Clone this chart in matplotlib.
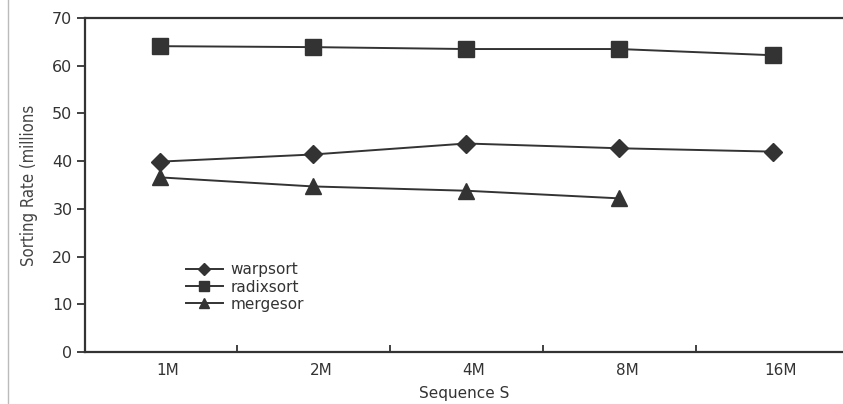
#!/usr/bin/env python3
import matplotlib
matplotlib.use("Agg")
import matplotlib.pyplot as plt
from matplotlib.lines import Line2D

sizes = ["1M", "2M", "4M", "8M", "16M"]
warpsort = [39.9, 41.4, 43.7, 42.7, 42.0]
radixsort = [64.1, 63.9, 63.5, 63.5, 62.2]
mergesort = [36.6, 34.7, 33.8, 32.2]

ink = "#333333"
plt.rcParams["font.family"] = ["DejaVu Sans"]

fig = plt.figure(figsize=(8.43, 4.04), dpi=100)
ax = fig.add_axes([0.1008, 0.1287, 0.8992, 0.8267])

x = list(range(len(sizes)))
ax.plot(x, warpsort, color=ink, lw=1.4, marker="D", ms=9.5, label="warpsort")
ax.plot(x, radixsort, color=ink, lw=1.4, marker="s", ms=11.5, label="radixsort")
ax.plot(x[:len(mergesort)], mergesort, color=ink, lw=1.4, marker="^", ms=11,
        label="mergesor")

ax.set_xlim(-0.49, 4.46)
ax.set_ylim(0, 70)
ax.set_yticks(range(0, 71, 10))
ax.set_xticks([i + 0.5 for i in range(4)])
ax.set_xticklabels([])
for i, s in enumerate(sizes):
    ax.text(i + 0.05, -3.8, s, ha="center", va="center", fontsize=11, color=ink)
ax.tick_params(axis="x", direction="in", length=5, width=1.3, color=ink)
ax.tick_params(axis="y", direction="out", length=6, width=1.3, color=ink,
               labelsize=11.5, labelcolor=ink, pad=3)

for side in ["left", "bottom", "top"]:
    ax.spines[side].set_linewidth(1.6)
    ax.spines[side].set_color(ink)
ax.spines["right"].set_visible(False)

ax.text(-0.074, 0.5, "Sorting Rate (millions", transform=ax.transAxes, rotation=90,
        ha="center", va="center", fontsize=12, color="#444444", fontstretch="condensed")
ax.text(0.5, -0.125, "Sequence S", transform=ax.transAxes, ha="center", va="center",
        fontsize=11, color=ink)

ax.legend(loc="upper left", bbox_to_anchor=(0.115, 0.31), frameon=False, fontsize=11,
          handlelength=2.4, handletextpad=0.5, labelspacing=0.15, markerscale=0.65,
          labelcolor=ink)

fig.add_artist(Line2D([0.0095, 0.0095], [0, 1], color="#bbbbbb", lw=1.0,
                      transform=fig.transFigure))

fig.savefig("out.png", dpi=100)
